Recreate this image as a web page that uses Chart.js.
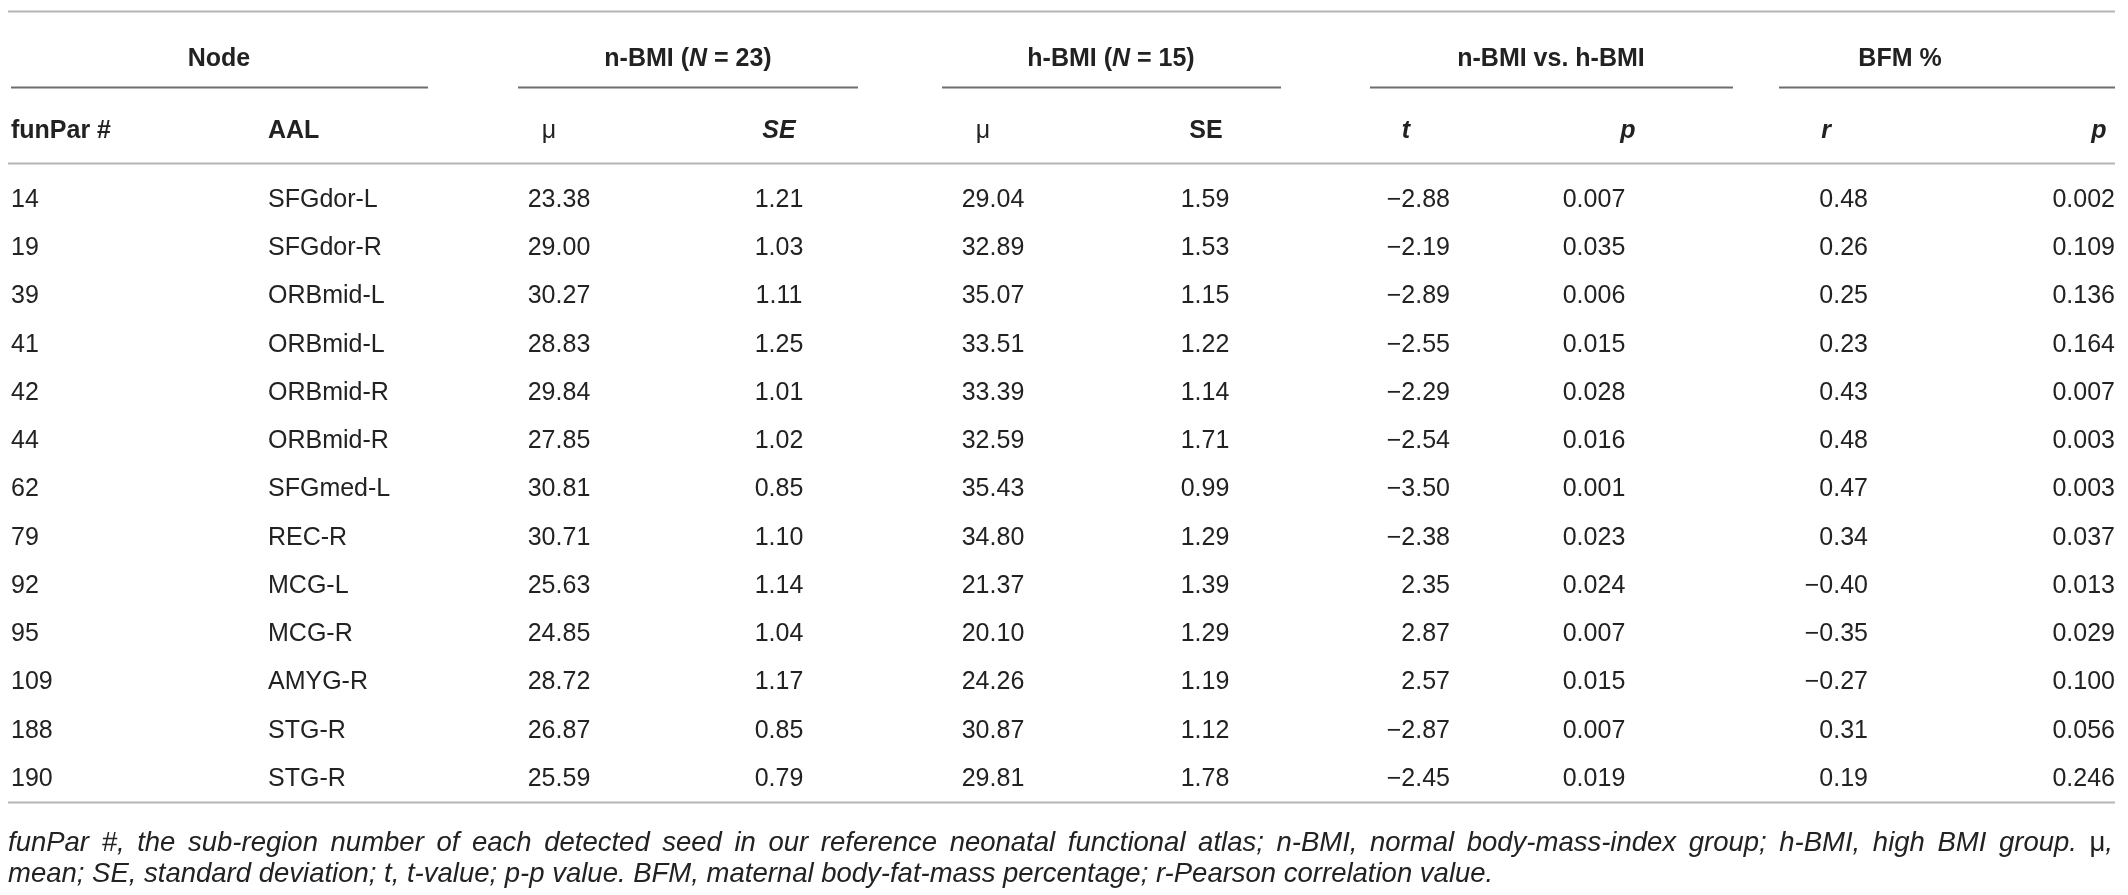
<!DOCTYPE html>
<html>
<head>
<meta charset="utf-8">
<script src="https://cdn.jsdelivr.net/npm/chart.js@4.4.1/dist/chart.umd.min.js"></script>
<style>
  html, body { margin: 0; background: #fff; }
  canvas { display: block; }
</style>
</head>
<body>
<canvas id="table" width="2128" height="895"></canvas>
<script>
/* DATA */

const funParIds = ['14', '19', '39', '41', '42', '44', '62', '79', '92', '95', '109', '188', '190'];
const aalNames = ['SFGdor-L', 'SFGdor-R', 'ORBmid-L', 'ORBmid-L', 'ORBmid-R', 'ORBmid-R', 'SFGmed-L',
  'REC-R', 'MCG-L', 'MCG-R', 'AMYG-R', 'STG-R', 'STG-R'];
const nbmiMean = [23.38, 29.00, 30.27, 28.83, 29.84, 27.85, 30.81, 30.71, 25.63, 24.85, 28.72, 26.87, 25.59];
const nbmiSE = [1.21, 1.03, 1.11, 1.25, 1.01, 1.02, 0.85, 1.10, 1.14, 1.04, 1.17, 0.85, 0.79];
const hbmiMean = [29.04, 32.89, 35.07, 33.51, 33.39, 32.59, 35.43, 34.80, 21.37, 20.10, 24.26, 30.87, 29.81];
const hbmiSE = [1.59, 1.53, 1.15, 1.22, 1.14, 1.71, 0.99, 1.29, 1.39, 1.29, 1.19, 1.12, 1.78];
const tValues = [-2.88, -2.19, -2.89, -2.55, -2.29, -2.54, -3.50, -2.38, 2.35, 2.87, 2.57, -2.87, -2.45];
const tPValues = [0.007, 0.035, 0.006, 0.015, 0.028, 0.016, 0.001, 0.023, 0.024, 0.007, 0.015, 0.007, 0.019];
const rValues = [0.48, 0.26, 0.25, 0.23, 0.43, 0.48, 0.47, 0.34, -0.40, -0.35, -0.27, 0.31, 0.19];
const rPValues = [0.002, 0.109, 0.136, 0.164, 0.007, 0.003, 0.003, 0.037, 0.013, 0.029, 0.100, 0.056, 0.246];

const footLines = [
  'funPar #, the sub-region number of each detected seed in our reference neonatal functional atlas; n-BMI, normal body-mass-index group; h-BMI, high BMI group.',
  'mean; SE, standard deviation; t, t-value; p-p value. BFM, maternal body-fat-mass percentage; r-Pearson correlation value.'
];

/* LAYOUT */

const FAMILY = '"Liberation Sans", Arial, Helvetica, sans-serif';
const BODY = '25px ' + FAMILY;
const HEAD = 'bold 25px ' + FAMILY;
const HEAD_IT = 'italic bold 25px ' + FAMILY;
const MU = '25px ' + FAMILY;
const FOOT = 'italic 27.5px ' + FAMILY;
const FOOT_UP = '27.5px ' + FAMILY;
const INK = '#222';

const fmt = function (d) {
  return function (v) {
    return (v < 0 ? '\u2212' : '') + Math.abs(v).toFixed(d);
  };
};
const same = function (v) { return v; };

// one column = one dataset, x is the column anchor
const columns = [
  { values: funParIds, x: 11, align: 'left', format: same },
  { values: aalNames, x: 268, align: 'left', format: same },
  { values: nbmiMean, x: 559, align: 'center', format: fmt(2) },
  { values: nbmiSE, x: 779, align: 'center', format: fmt(2) },
  { values: hbmiMean, x: 993, align: 'center', format: fmt(2) },
  { values: hbmiSE, x: 1205, align: 'center', format: fmt(2) },
  { values: tValues, x: 1450, align: 'right', format: fmt(2) },
  { values: tPValues, x: 1594, align: 'center', format: fmt(3) },
  { values: rValues, x: 1868, align: 'right', format: fmt(2) },
  { values: rPValues, x: 2115, align: 'right', format: fmt(3) }
];

const groups = [
  { from: 11, to: 428, mid: 219, runs: [['Node', HEAD]] },
  { from: 518, to: 858, mid: 688, runs: [['n-BMI (', HEAD], ['N', HEAD_IT], [' = 23)', HEAD]] },
  { from: 942, to: 1281, mid: 1111, runs: [['h-BMI (', HEAD], ['N', HEAD_IT], [' = 15)', HEAD]] },
  { from: 1370, to: 1733, mid: 1551, runs: [['n-BMI vs. h-BMI', HEAD]] },
  { from: 1779, to: 2115, mid: 1900, runs: [['BFM %', HEAD]] }
];

const subHeads = [
  { x: 11, align: 'left', runs: [['funPar #', HEAD]] },
  { x: 268, align: 'left', runs: [['AAL', HEAD]] },
  { x: 549, align: 'center', runs: [['\u03bc', MU]] },
  { x: 779, align: 'center', runs: [['SE', HEAD_IT]] },
  { x: 983, align: 'center', runs: [['\u03bc', MU]] },
  { x: 1206, align: 'center', runs: [['SE', HEAD]] },
  { x: 1406, align: 'center', runs: [['t', HEAD_IT]] },
  { x: 1628, align: 'center', runs: [['p', HEAD_IT]] },
  { x: 1826, align: 'center', runs: [['r', HEAD_IT]] },
  { x: 2099, align: 'center', runs: [['p', HEAD_IT]] }
];

// vertical places in row units (row 0 = first data row)
const TOP_RULE = -3.92;
const GROUP_ROW = -2.92;
const GROUP_RULE = -2.34;
const SUB_ROW = -1.43;
const HEAD_RULE = -0.77;
const BOTTOM_RULE = 12.48;
const FOOT_ROWS = [13.33, 13.97];
const FOOT_LEFT = 8;
const FOOT_RIGHT = 2113;

function hline(ctx, x1, x2, y, color) {
  ctx.save();
  ctx.strokeStyle = color;
  ctx.lineWidth = 2;
  ctx.beginPath();
  ctx.moveTo(x1, Math.round(y) + 0.5);
  ctx.lineTo(x2, Math.round(y) + 0.5);
  ctx.stroke();
  ctx.restore();
}

// draw text made of differently styled pieces
function drawRuns(ctx, runs, x, y, align) {
  let total = 0;
  runs.forEach(function (r) {
    ctx.font = r[1];
    total += ctx.measureText(r[0]).width;
  });
  let start = x;
  if (align === 'center') start = x - total / 2;
  if (align === 'right') start = x - total;
  ctx.textAlign = 'left';
  runs.forEach(function (r) {
    ctx.font = r[1];
    ctx.fillText(r[0], start, y);
    start += ctx.measureText(r[0]).width;
  });
}

// justified line: words spread between left and right
function drawJustified(ctx, words, left, right, y) {
  let sum = 0;
  words.forEach(function (w) {
    w.width = 0;
    w.runs.forEach(function (r) {
      ctx.font = r[1];
      w.width += ctx.measureText(r[0]).width;
    });
    sum += w.width;
  });
  const gap = (right - left - sum) / (words.length - 1);
  let x = left;
  words.forEach(function (w) {
    drawRuns(ctx, w.runs, x, y, 'left');
    x += w.width + gap;
  });
}

const tablePlugin = {
  id: 'tableText',
  beforeDraw(chart) {
    const ctx = chart.ctx;
    ctx.save();
    ctx.fillStyle = '#fff';
    ctx.fillRect(0, 0, chart.width, chart.height);
    ctx.restore();
  },
  afterDatasetsDraw(chart) {
    const ctx = chart.ctx;
    const yScale = chart.scales.y;
    const rowY = function (v) { return yScale.getPixelForValue(v); };

    ctx.save();
    ctx.fillStyle = INK;
    ctx.textBaseline = 'middle';

    // rules
    hline(ctx, 8, 2115, rowY(TOP_RULE), '#b5b5b5');
    groups.forEach(function (g) {
      hline(ctx, g.from, g.to, rowY(GROUP_RULE), '#6e6e6e');
      drawRuns(ctx, g.runs, g.mid, rowY(GROUP_ROW), 'center');
    });
    hline(ctx, 8, 2115, rowY(HEAD_RULE), '#b5b5b5');
    hline(ctx, 8, 2115, rowY(BOTTOM_RULE), '#b5b5b5');

    subHeads.forEach(function (s) {
      drawRuns(ctx, s.runs, s.x, rowY(SUB_ROW), s.align);
    });

    // cells, placed by the library
    chart.data.datasets.forEach(function (ds, d) {
      const meta = chart.getDatasetMeta(d);
      ctx.font = BODY;
      ctx.textAlign = ds.align;
      meta.data.forEach(function (pt, i) {
        ctx.fillText(ds.text[i], pt.x, pt.y);
      });
    });

    // footnote: first line justified, last line flush left
    const words = footLines[0].split(' ').map(function (w) { return { runs: [[w, FOOT]] }; });
    words.push({ runs: [['\u03bc', FOOT_UP], [',', FOOT]] });
    drawJustified(ctx, words, FOOT_LEFT, FOOT_RIGHT, rowY(FOOT_ROWS[0]));
    drawRuns(ctx, [[footLines[1], FOOT]], FOOT_LEFT, rowY(FOOT_ROWS[1]), 'left');
    ctx.restore();
  }
};

const ctx = document.getElementById('table').getContext('2d');

const chart = new Chart(ctx, {
  type: 'scatter',
  data: {
    labels: funParIds,
    datasets: columns.map(function (col) {
      return {
        data: col.values.map(function (v, i) { return { x: col.x, y: funParIds[i] }; }),
        text: col.values.map(col.format),
        align: col.align,
        pointRadius: 0,
        pointHoverRadius: 0
      };
    })
  },
  options: {
    responsive: false,
    devicePixelRatio: 1,
    animation: false,
    events: [],
    layout: { padding: { top: 200, bottom: 116, left: 0, right: 0 } },
    plugins: { legend: { display: false }, tooltip: { enabled: false } },
    scales: {
      x: { type: 'linear', min: 0, max: 2128, display: false },
      y: { type: 'category', labels: funParIds, offset: false, display: false }
    }
  },
  plugins: [tablePlugin]
});
</script>
</body>
</html>
